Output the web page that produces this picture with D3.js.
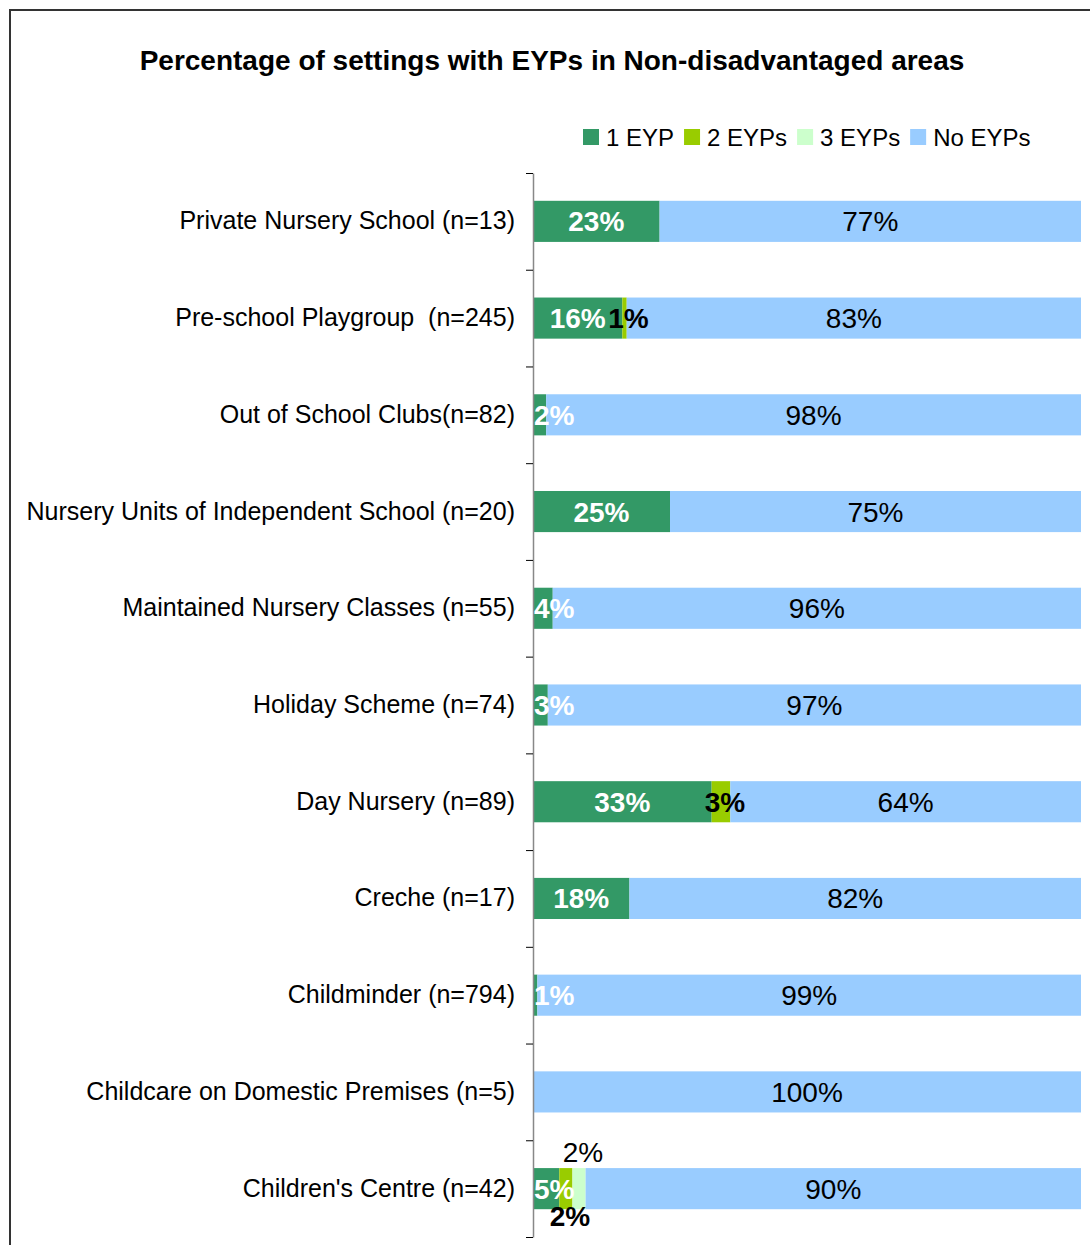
<!DOCTYPE html>
<html>
<head>
<meta charset="utf-8">
<script src="https://cdn.jsdelivr.net/npm/d3@7"></script>
<style>
  body { margin: 0; background: #fff; }
  text { font-family: "Liberation Sans", Arial, sans-serif; white-space: pre; }
</style>
</head>
<body>
<svg id="chart" width="1090" height="1245"></svg>
<script>
const categories = [
  "Private Nursery School (n=13)",
  "Pre-school Playgroup  (n=245)",
  "Out of School Clubs(n=82)",
  "Nursery Units of Independent School (n=20)",
  "Maintained Nursery Classes (n=55)",
  "Holiday Scheme (n=74)",
  "Day Nursery (n=89)",
  "Creche (n=17)",
  "Childminder (n=794)",
  "Childcare on Domestic Premises (n=5)",
  "Children's Centre (n=42)"
]
const seriesNames = ["1 EYP", "2 EYPs", "3 EYPs", "No EYPs"]
const oneEYP   = [23.1, 16.3, 2.4, 25, 3.6, 2.7, 32.6, 17.6, 0.8, 0, 4.8]
const twoEYPs  = [0, 0.8, 0, 0, 0, 0, 3.4, 0, 0, 0, 2.4]
const threeEYPs = [0, 0, 0, 0, 0, 0, 0, 0, 0, 0, 2.4]
const noEYPs   = [76.9, 82.9, 97.6, 75, 96.4, 97.3, 64.0, 82.4, 99.2, 100, 90.4]
const colors = ["#339966", "#99cc00", "#ccffcc", "#99ccff"]

const rows = categories.map((c, i) => ({
  cat: c,
  "1 EYP": oneEYP[i],
  "2 EYPs": twoEYPs[i],
  "3 EYPs": threeEYPs[i],
  "No EYPs": noEYPs[i]
}))

const svg = d3.select("#chart")

// outer frame
svg.append("rect")
  .attr("x", 10).attr("y", 10)
  .attr("width", 1100).attr("height", 1260)
  .attr("fill", "none")
  .attr("stroke", "#333")
  .attr("stroke-width", 2)

svg.append("text")
  .attr("x", 552).attr("y", 70)
  .attr("text-anchor", "middle")
  .attr("font-size", 28)
  .attr("font-weight", "bold")
  .text("Percentage of settings with EYPs in Non-disadvantaged areas")

const plot = {left: 533, right: 1081, top: 173, bottom: 1237}

const x = d3.scaleLinear().domain([0, 100]).range([plot.left, plot.right])
const y = d3.scaleBand()
  .domain(categories)
  .range([plot.top, plot.bottom])
  .paddingInner(0.575)
  .paddingOuter(0.2875)
const color = d3.scaleOrdinal().domain(seriesNames).range(colors)

const stack = d3.stack().keys(seriesNames)
const layers = stack(rows)

// bars
const layerG = svg.append("g")
  .selectAll("g")
  .data(layers)
  .join("g")
  .attr("fill", d => color(d.key))

layerG.selectAll("rect")
  .data(d => d)
  .join("rect")
  .attr("x", d => x(d[0]))
  .attr("y", d => y(d.data.cat))
  .attr("width", d => x(d[1]) - x(d[0]))
  .attr("height", y.bandwidth())

// axis: line with ticks at category boundaries
const yEdge = d3.scaleLinear().domain([0, categories.length]).range([plot.top, plot.bottom])
const axisG = svg.append("g")
  .attr("transform", `translate(${plot.left},0)`)
  .call(d3.axisLeft(yEdge).tickValues(d3.range(categories.length + 1)).tickFormat("").tickSize(7).tickSizeOuter(0))
axisG.select(".domain").attr("stroke", "#888").attr("stroke-width", 1.5)
axisG.selectAll(".tick line").attr("stroke", "#000")

// category labels
svg.append("g")
  .attr("transform", `translate(${plot.left},0)`)
  .call(d3.axisLeft(y).tickSize(0).tickPadding(18))
  .call(g => g.select(".domain").remove())
  .selectAll("text")
  .attr("font-size", 25)
  .attr("font-family", "Liberation Sans, Arial, sans-serif")
  .attr("fill", "#000")

// value labels
const fmt = v => Math.round(v) + "%"
layers.forEach(layer => {
  const key = layer.key
  layer.forEach(d => {
    const v = d[1] - d[0]
    if (v <= 0) return
    const cy = y(d.data.cat) + y.bandwidth() / 2
    const t = svg.append("text")
      .attr("text-anchor", "middle")
      .attr("font-size", 28)
      .text(fmt(v))
    let cx = (x(d[0]) + x(d[1])) / 2
    let ty = cy + 10
    let shift = 0
    if (key === "1 EYP") {
      t.attr("fill", "#fff").attr("font-weight", "bold")
    } else if (key === "2 EYPs") {
      t.attr("fill", "#000").attr("font-weight", "bold")
      shift = 4
      // pushed below the bar when a 3 EYPs segment sits next to it
      if (d.data["3 EYPs"] > 0) ty = y(d.data.cat) + y.bandwidth() + 17
    } else if (key === "3 EYPs") {
      t.attr("fill", "#000")
      shift = 4
      ty = y(d.data.cat) - 6
    } else {
      t.attr("fill", "#000")
    }
    t.attr("y", ty)
    const w = t.node().getComputedTextLength()
    if (cx - w / 2 < plot.left + 1) cx = plot.left + 1 + w / 2
    t.attr("x", cx + shift)
  })
})

// legend
const legend = svg.append("g").attr("transform", "translate(583,129)")
let lx = 0
seriesNames.forEach((s, i) => {
  legend.append("rect")
    .attr("x", lx).attr("y", 0)
    .attr("width", 16).attr("height", 16)
    .attr("fill", colors[i])
  const t = legend.append("text")
    .attr("x", lx + 23).attr("y", 17)
    .attr("font-size", 24)
    .text(s)
  lx += 23 + t.node().getComputedTextLength() + 10
})
</script>
</body>
</html>
